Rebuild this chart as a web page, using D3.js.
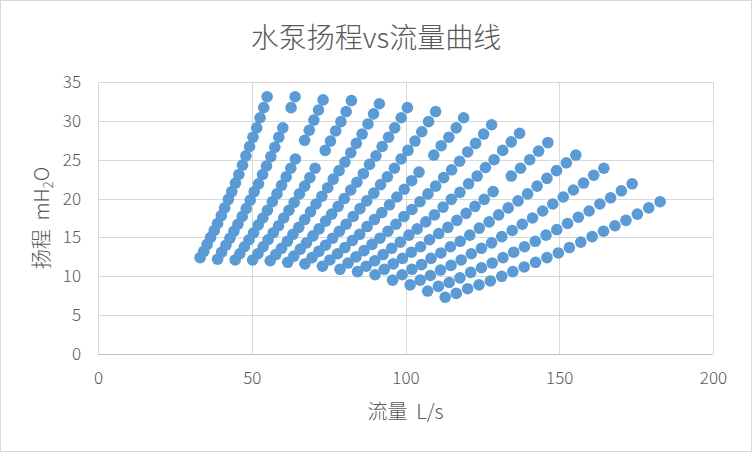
<!DOCTYPE html>
<html>
<head>
<meta charset="utf-8">
<script src="https://cdn.jsdelivr.net/npm/d3@7"></script>
<style>
  body { margin: 0; background: #fff; }
  text { font-family: "Noto Sans CJK SC", "Noto Sans", sans-serif; fill: #595959; }
</style>
</head>
<body>
<div id="chart"></div>
<script>
// 水泵扬程 vs 流量. Each inner array is one run of points (low speed at the bottom, high speed at the top).

// Flow, L/s
const flowLines = [
    [33.2, 34.4, 35.5, 36.6, 37.8, 38.9, 40.1, 41.2, 42.4, 43.5, 44.7, 45.8, 47.0, 48.1, 49.3, 50.4, 51.6, 52.7, 53.9, 55.0],
    [38.9, 40.2, 41.6, 42.9, 44.2, 45.5, 46.9, 48.2, 49.5, 50.8, 52.2, 53.5, 54.8, 56.2, 57.5, 58.8, 60.1, 62.8, 64.1],
    [44.6, 46.1, 47.6, 49.1, 50.6, 52.1, 53.6, 55.1, 56.7, 58.2, 59.7, 61.2, 62.7, 64.2, 67.2, 68.7, 70.2, 71.7, 73.2],
    [50.3, 52.0, 53.7, 55.3, 57.0, 58.7, 60.4, 62.1, 63.8, 65.5, 67.2, 68.9, 70.6, 73.9, 75.6, 77.3, 79.0, 80.7, 82.4],
    [56.0, 57.8, 59.7, 61.6, 63.4, 65.3, 67.2, 69.1, 70.9, 72.8, 74.7, 76.5, 78.4, 80.3, 82.2, 84.0, 85.9, 87.8, 89.6, 91.5],
    [61.7, 63.7, 65.8, 67.8, 69.9, 71.9, 74.0, 76.0, 78.1, 80.1, 82.2, 84.2, 86.3, 88.3, 90.4, 92.4, 94.5, 96.5, 98.6, 100.6],
    [67.3, 69.6, 71.8, 74.0, 76.3, 78.5, 80.7, 83.0, 85.2, 87.4, 89.7, 91.9, 94.1, 96.4, 98.6, 100.8, 103.1, 105.3, 107.5, 109.8],
    [73.0, 75.4, 77.9, 80.3, 82.7, 85.1, 87.5, 89.9, 92.3, 94.8, 97.2, 99.6, 102.0, 104.4, 109.2, 111.6, 114.1, 116.5, 118.9],
    [78.7, 81.3, 83.9, 86.5, 89.1, 91.7, 94.3, 96.9, 99.5, 102.1, 104.7, 107.3, 109.8, 112.4, 115.0, 117.6, 120.2, 122.8, 125.4, 128.0],
    [84.4, 87.2, 90.0, 92.7, 95.5, 98.3, 101.1, 103.8, 106.6, 109.4, 112.2, 114.9, 117.7, 120.5, 123.3, 126.0, 128.8, 131.6, 134.4, 137.1],
    [90.1, 93.1, 96.0, 99.0, 101.9, 104.9, 107.8, 110.8, 113.8, 116.7, 119.7, 122.6, 125.6, 128.5, 134.4, 137.4, 140.4, 143.3, 146.3],
    [95.8, 98.9, 102.1, 105.2, 108.3, 111.5, 114.6, 117.8, 120.9, 124.0, 127.2, 130.3, 133.4, 136.6, 139.7, 142.8, 146.0, 149.1, 152.3, 155.4],
    [101.5, 104.8, 108.1, 111.4, 114.8, 118.1, 121.4, 124.7, 128.0, 131.3, 134.7, 138.0, 141.3, 144.6, 147.9, 151.3, 154.6, 157.9, 161.2, 164.5],
    [107.2, 110.7, 114.2, 117.7, 121.2, 124.7, 128.2, 131.7, 135.2, 138.7, 142.2, 145.7, 149.2, 152.7, 156.2, 159.7, 163.2, 166.7, 170.2, 173.7],
    [112.9, 116.5, 120.2, 123.9, 127.6, 131.3, 134.9, 138.6, 142.3, 146.0, 149.7, 153.3, 157.0, 160.7, 164.4, 168.1, 171.7, 175.4, 179.1, 182.8]
];

// Head, mH2O (same order as flowLines)
const headLines = [
    [12.4, 13.2, 14.1, 15.0, 15.9, 16.8, 17.8, 18.8, 19.9, 20.9, 22.0, 23.1, 24.3, 25.5, 26.7, 27.9, 29.1, 30.4, 31.7, 33.1],
    [12.2, 13.1, 14.0, 14.9, 15.8, 16.7, 17.7, 18.7, 19.8, 20.9, 21.9, 23.1, 24.2, 25.4, 26.6, 27.9, 29.1, 31.7, 33.1],
    [12.1, 12.9, 13.8, 14.7, 15.6, 16.6, 17.5, 18.5, 19.6, 20.6, 21.7, 22.8, 23.9, 25.1, 27.5, 28.8, 30.1, 31.4, 32.7],
    [12.1, 12.9, 13.8, 14.7, 15.6, 16.5, 17.5, 18.5, 19.5, 20.6, 21.6, 22.7, 23.9, 26.2, 27.4, 28.7, 29.9, 31.2, 32.6],
    [12.0, 12.8, 13.6, 14.5, 15.4, 16.3, 17.3, 18.3, 19.3, 20.3, 21.4, 22.5, 23.6, 24.7, 25.9, 27.1, 28.3, 29.6, 30.9, 32.2],
    [11.8, 12.6, 13.5, 14.3, 15.2, 16.1, 17.1, 18.0, 19.0, 20.0, 21.1, 22.1, 23.2, 24.4, 25.5, 26.7, 27.9, 29.1, 30.4, 31.7],
    [11.6, 12.4, 13.2, 14.0, 14.9, 15.8, 16.7, 17.7, 18.7, 19.7, 20.7, 21.8, 22.8, 23.9, 25.1, 26.2, 27.4, 28.6, 29.9, 31.2],
    [11.3, 12.1, 12.9, 13.7, 14.6, 15.4, 16.4, 17.3, 18.2, 19.2, 20.2, 21.2, 22.3, 23.4, 25.6, 26.8, 27.9, 29.1, 30.4],
    [10.9, 11.7, 12.5, 13.3, 14.1, 14.9, 15.8, 16.7, 17.7, 18.6, 19.6, 20.6, 21.6, 22.7, 23.7, 24.8, 26.0, 27.1, 28.3, 29.5],
    [10.6, 11.3, 12.0, 12.8, 13.6, 14.4, 15.3, 16.1, 17.0, 17.9, 18.9, 19.9, 20.8, 21.9, 22.9, 24.0, 25.0, 26.2, 27.3, 28.4],
    [10.2, 10.9, 11.6, 12.3, 13.1, 13.8, 14.7, 15.5, 16.3, 17.2, 18.1, 19.0, 19.9, 20.9, 22.9, 23.9, 25.0, 26.1, 27.2],
    [9.5, 10.2, 10.9, 11.5, 12.3, 13.0, 13.8, 14.5, 15.3, 16.2, 17.0, 17.9, 18.8, 19.7, 20.6, 21.6, 22.6, 23.6, 24.6, 25.6],
    [8.9, 9.5, 10.1, 10.8, 11.4, 12.1, 12.9, 13.6, 14.3, 15.1, 15.9, 16.7, 17.5, 18.4, 19.3, 20.2, 21.1, 22.0, 23.0, 23.9],
    [8.1, 8.7, 9.2, 9.8, 10.5, 11.1, 11.7, 12.4, 13.1, 13.8, 14.5, 15.3, 16.0, 16.8, 17.6, 18.4, 19.3, 20.1, 21.0, 21.9],
    [7.3, 7.8, 8.4, 8.9, 9.4, 10.0, 10.6, 11.2, 11.8, 12.4, 13.0, 13.7, 14.4, 15.1, 15.8, 16.5, 17.2, 18.0, 18.8, 19.6]
];

const xTicks = [0, 50, 100, 150, 200];
const yTicks = [0, 5, 10, 15, 20, 25, 30, 35];
const chartTitle = "水泵扬程vs流量曲线";

// Chart size and plot-area margins.
const width = 752;
const height = 452;
const marginTop = 82;
const marginRight = 39;
const marginBottom = 98;
const marginLeft = 98;

const svg = d3.create("svg")
    .attr("width", width)
    .attr("height", height);

// Outer border like the spreadsheet chart frame.
svg.append("rect")
    .attr("x", 0.5).attr("y", 0.5)
    .attr("width", width - 1).attr("height", height - 1)
    .attr("fill", "#fff")
    .attr("stroke", "#d9d9d9");

const xscale = d3.scaleLinear()
    .domain([0, 200])
    .range([marginLeft, width - marginRight]);

const yscale = d3.scaleLinear()
    .domain([0, 35])
    .range([height - marginBottom, marginTop]);

// Gridlines (both directions).
svg.append("g")
    .selectAll("line")
    .data(yTicks)
    .join("line")
    .attr("x1", xscale(0)).attr("x2", xscale(200))
    .attr("y1", d => Math.round(yscale(d)) + 0.5)
    .attr("y2", d => Math.round(yscale(d)) + 0.5)
    .attr("stroke", d => d === 0 ? "#bfbfbf" : "#d9d9d9");

svg.append("g")
    .selectAll("line")
    .data(xTicks)
    .join("line")
    .attr("x1", d => Math.round(xscale(d)) + 0.5)
    .attr("x2", d => Math.round(xscale(d)) + 0.5)
    .attr("y1", yscale(0)).attr("y2", yscale(35))
    .attr("stroke", "#d9d9d9");

// Axes: only the labels are kept, lines come from the grid above.
const xAxis = svg.append("g")
    .attr("transform", `translate(0, ${yscale(0)})`)
    .call(d3.axisBottom(xscale).tickValues(xTicks).tickSize(0).tickPadding(18));
const yAxis = svg.append("g")
    .attr("transform", `translate(${marginLeft}, 0)`)
    .call(d3.axisLeft(yscale).tickValues(yTicks).tickSize(0).tickPadding(17));
for (const ax of [xAxis, yAxis]) {
    ax.select(".domain").remove();
    ax.selectAll("text")
        .attr("fill", "#595959")
        .style("font-size", "17px")
        .style("font-weight", "300")
        .style("font-family", "\"Noto Sans CJK SC\", sans-serif");
}

// Plot points, one run at a time.
const points = [];
flowLines.forEach((line, i) => {
    line.forEach((q, k) => points.push({ q: q, h: headLines[i][k] }));
});

svg.append("g")
    .selectAll("circle")
    .data(points)
    .join("circle")
    .attr("r", 5.8)
    .attr("cx", d => xscale(d.q))
    .attr("cy", d => yscale(d.h))
    .attr("fill", "#5b9bd5");

// Title and axis titles.
svg.append("text")
    .attr("x", width / 2)
    .attr("y", 48)
    .attr("text-anchor", "middle")
    .style("font-size", "28px")
    .style("font-weight", "300")
    .text(chartTitle);

svg.append("text")
    .attr("x", (xscale(0) + xscale(200)) / 2)
    .attr("y", 419)
    .attr("text-anchor", "middle")
    .style("font-size", "20px")
    .style("font-weight", "300")
    .attr("xml:space", "preserve")
    .text("流量  L/s");

const yTitle = svg.append("text")
    .attr("transform", `translate(49, ${(yscale(0) + yscale(35)) / 2}) rotate(-90)`)
    .attr("text-anchor", "middle")
    .attr("xml:space", "preserve")
    .style("font-size", "20px")
    .style("font-weight", "300");
yTitle.append("tspan").text("扬程  mH");
yTitle.append("tspan").attr("dy", 4).style("font-size", "13px").text("2");
yTitle.append("tspan").attr("dy", -4).text("O");

chart.append(svg.node());
</script>
</body>
</html>
